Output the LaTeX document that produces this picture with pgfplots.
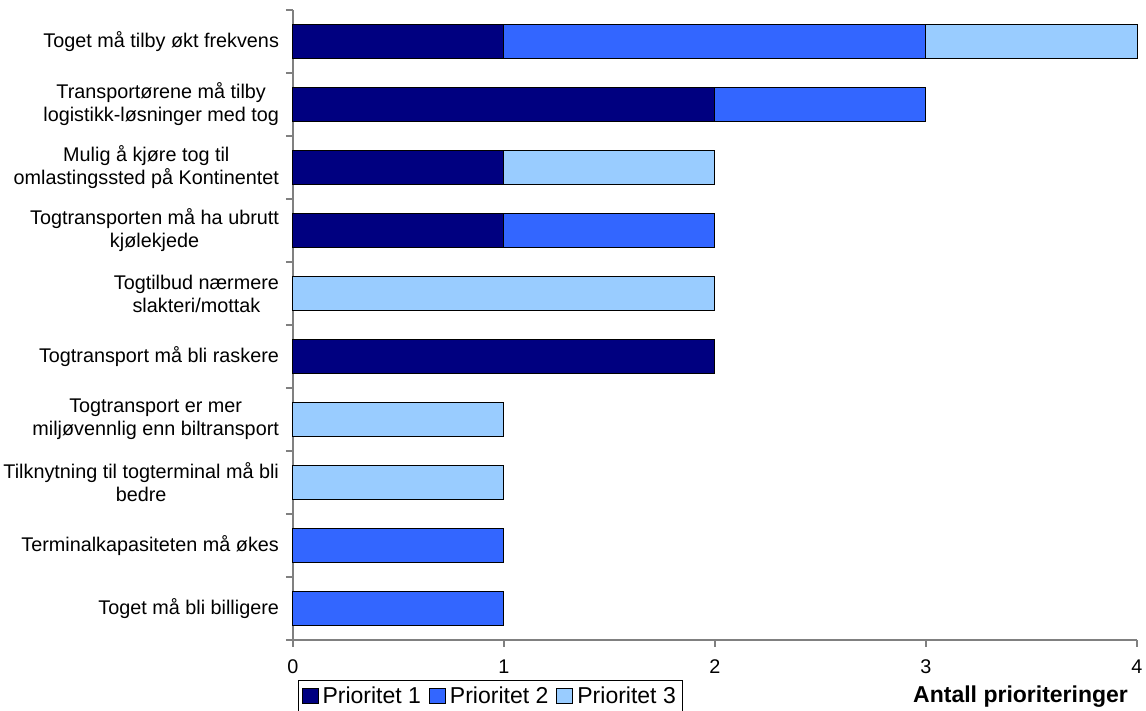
\documentclass[border=0pt]{standalone}
\usepackage{fontspec}
\setmainfont{Liberation Sans}
\usepackage{pgfplots}
\pgfplotsset{compat=1.18}
\definecolor{p1}{HTML}{000080}
\definecolor{p2}{HTML}{3366FF}
\definecolor{p3}{HTML}{99CCFF}
\definecolor{axgray}{HTML}{808080}
\begin{document}
\begin{tikzpicture}
\begin{axis}[
  at={(0,0)}, anchor=south west,
  scale only axis, width=422pt, height=315pt,
  xbar stacked, bar width=17pt,
  xmin=0, xmax=4, ymin=-0.5, ymax=9.5,
  clip=false,
  axis x line*=bottom, axis y line*=left,
  axis line style={axgray, line width=0.6pt},
  xtick={0,1,2,3,4},
  ytick={0,...,9},
  yticklabels={
    Toget må bli billigere,
    Terminalkapasiteten må økes,
    {Tilknytning til togterminal må bli\\bedre},
    {Togtransport er mer\\miljøvennlig enn biltransport},
    Togtransport må bli raskere,
    {Togtilbud nærmere\\slakteri/mottak},
    {Togtransporten må ha ubrutt\\kjølekjede},
    {Mulig å kjøre tog til\\omlastingssted på Kontinentet},
    {Transportørene må tilby\\logistikk-løsninger med tog},
    Toget må tilby økt frekvens},
  minor ytick={-0.5,0.5,...,9.5},
  tick align=outside,
  major tick length=3.5pt,
  minor tick length=3.5pt,
  major y tick style={draw=none},
  minor y tick style={axgray, line width=0.6pt},
  major x tick style={axgray, line width=0.6pt},
  /pgf/number format/assume math mode=true,
  yticklabel style={align=center, font=\fontsize{9.9}{11.5}\selectfont, xshift=0pt},
  xticklabel style={font=\fontsize{9.9}{11.5}\selectfont, yshift=-2.8pt},
  xlabel={\textbf{Antall prioriteringer}},
  xlabel style={at={(axis description cs:1,0)}, anchor=base east, yshift=-31.5pt, xshift=-1pt, font=\fontsize{11.5}{13}\selectfont},
  legend columns=3,
  legend style={at={(axis description cs:0.006,-0.0635)}, anchor=north west,
    draw=black, line width=0.5pt, font=\fontsize{11.5}{13}\selectfont,
    inner xsep=1.5pt, inner ysep=1pt,
    nodes={inner xsep=2pt},
    /tikz/every even column/.append style={column sep=2pt}},
]
\addplot[fill=p1, draw=black, line width=0.5pt,
  legend image code/.code={\draw[fill=p1, draw=black, line width=0.5pt] (0pt,-3.75pt) rectangle (8pt,3.75pt);}]
  coordinates {(0,0) (0,1) (0,2) (0,3) (2,4) (0,5) (1,6) (1,7) (2,8) (1,9)};
\addplot[fill=p2, draw=black, line width=0.5pt,
  legend image code/.code={\draw[fill=p2, draw=black, line width=0.5pt] (0pt,-3.75pt) rectangle (8pt,3.75pt);}]
  coordinates {(1,0) (1,1) (0,2) (0,3) (0,4) (0,5) (1,6) (0,7) (1,8) (2,9)};
\addplot[fill=p3, draw=black, line width=0.5pt,
  legend image code/.code={\draw[fill=p3, draw=black, line width=0.5pt] (0pt,-3.75pt) rectangle (8pt,3.75pt);}]
  coordinates {(0,0) (0,1) (1,2) (1,3) (0,4) (2,5) (0,6) (1,7) (0,8) (1,9)};
\legend{Prioritet 1, Prioritet 2, Prioritet 3}
\end{axis}
\pgfresetboundingbox
\path (-146.5pt,-35.5pt) rectangle (426.5pt,320pt);
\end{tikzpicture}
\end{document}
